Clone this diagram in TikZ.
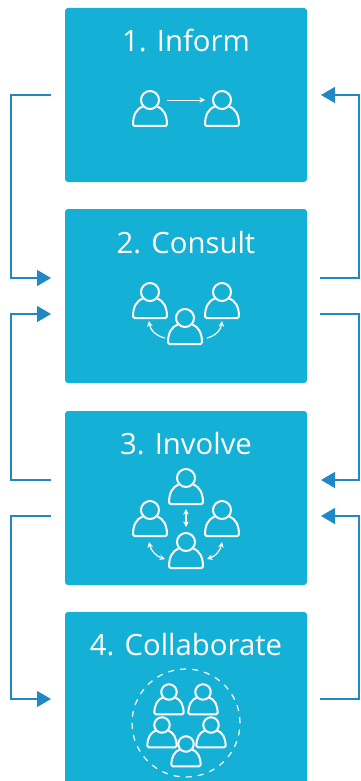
\documentclass[tikz,border=0pt]{standalone}
\usepackage{fontspec}
\setmainfont{Open Sans}
\usetikzlibrary{arrows.meta,positioning}

\definecolor{boxblue}{HTML}{15B0D5}
\definecolor{flowblue}{HTML}{2088C2}

\tikzset{
  stagebox/.style={fill=boxblue,rounded corners=3pt,minimum width=242pt,minimum height=174pt,outer sep=0pt},
  stagetitle/.style={anchor=base,text=white,inner sep=0pt,font=\fontsize{29.3}{32}\selectfont},
  flow/.style={draw=flowblue,line width=1.5pt,-{Triangle[length=14pt,width=16pt]}},
  link/.style={draw=white,line width=1.2pt,-{Stealth[length=5.5pt,width=5.5pt]}},
  twolink/.style={draw=white,line width=1.2pt,{Stealth[length=5.5pt,width=5.5pt]}-{Stealth[length=5.5pt,width=5.5pt]}},
  person/.pic={
    \coordinate (-head) at (0,0);
    \draw[white,line width=2pt] (0,0) circle (9);
    \draw[white,line width=2pt,rounded corners=1.5pt] (-7.5,-6.5) .. controls (-13.5,-9) and (-17,-15) .. (-17,-26)
       -- (17,-26) .. controls (17,-15) and (13.5,-9) .. (7.5,-6.5);
  }
}

\begin{document}
\begin{tikzpicture}[x=1pt,y=1pt]
  \clip (0,0) rectangle (360,-781);
  \fill[white] (0,0) rectangle (360,-781);

  \node[stagebox] (inform) at (186,-95) {};
  \node[stagebox,below=27pt of inform] (consult) {};
  \node[stagebox,below=28pt of consult] (involve) {};
  \node[stagebox,below=27pt of involve] (collab) {};

  \node[stagetitle] (title1) at ([yshift=43]inform.center) {1. Inform};
  \node[stagetitle] (title2) at ([yshift=43]consult.center) {2. Consult};
  \node[stagetitle] (title3) at ([yshift=44]involve.center) {3. Involve};
  \node[stagetitle] (title4) at ([yshift=44]collab.center) {4. Collaborate};

  % inform
  \pic (p11) at (150,-100) {person};
  \pic (p12) at (222,-100) {person};
  \draw[link,line width=.9pt] ([xshift=17]p11-head) -- ([xshift=-17]p12-head);

  % consult
  \pic (p21) at (150,-292) {person};
  \pic (p22) at (185,-318) {person};
  \pic (p23) at (222,-292) {person};
  \draw[link] ([shift={(-20,-20)}]p22-head) to[bend left=35] ([shift={(-1,-29)}]p21-head);
  \draw[link] ([shift={(22,-20)}]p22-head) to[bend right=35] ([shift={(0,-29)}]p23-head);

  % involve
  \pic (p31) at (186,-478) {person};
  \pic (p32) at (150,-510) {person};
  \pic (p33) at (222,-510) {person};
  \pic (p34) at (186,-542) {person};
  \draw[twolink] ([yshift=-31]p31-head) -- ([yshift=15]p34-head);
  \draw[twolink] ([shift={(-1,-32)}]p32-head) to[bend right=30] ([shift={(-21,-17)}]p34-head);
  \draw[twolink] ([shift={(0,-32)}]p33-head) to[bend left=30] ([shift={(21,-17)}]p34-head);

  % collaborate
  \node[circle,draw=white,line width=1.2pt,dash pattern=on 6pt off 6.1pt,minimum size=108pt,inner sep=0pt] (ring) at (186,-723) {};
  \pic[scale=.86] (p41) at (169,-692) {person};
  \pic[scale=.86] (p42) at (203,-692) {person};
  \pic[scale=.86] (p43) at (162,-725) {person};
  \pic[scale=.86] (p44) at (211,-725) {person};
  \pic[scale=.86] (p45) at (186,-744) {person};

  % left side
  \draw[flow] ([xshift=-14]inform.west) -- ++(-40,0) |- ([shift={(-14,18)}]consult.west);
  \draw[flow] ([shift={(-14,18)}]involve.west) -- ++(-40,0) |- ([shift={(-14,-18)}]consult.west);
  \draw[flow] ([shift={(-14,-18)}]involve.west) -- ++(-40,0) |- ([xshift=-14]collab.west);

  % right side
  \draw[flow] ([shift={(13,18)}]consult.east) -- ++(39,0) |- ([xshift=14]inform.east);
  \draw[flow] ([shift={(13,-18)}]consult.east) -- ++(39,0) |- ([shift={(14,18)}]involve.east);
  \draw[flow] ([xshift=13]collab.east) -- ++(39,0) |- ([shift={(14,-18)}]involve.east);
\end{tikzpicture}
\end{document}
